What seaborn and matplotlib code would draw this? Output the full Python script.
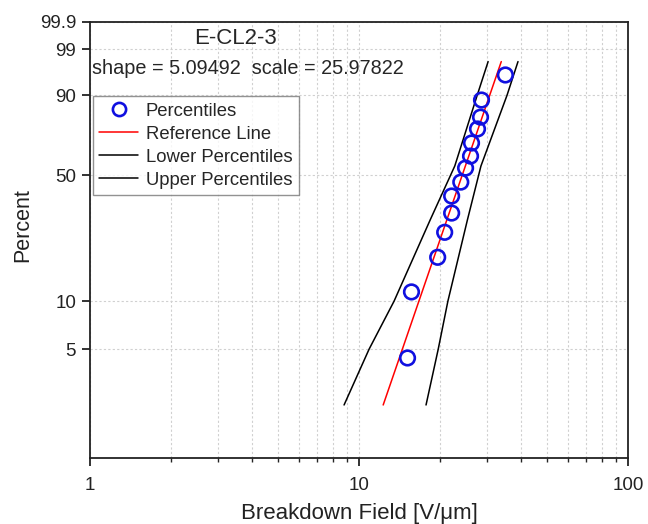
import numpy as np
import pandas as pd
import seaborn as sns
import matplotlib
matplotlib.use("Agg")
import matplotlib.pyplot as plt
from matplotlib.lines import Line2D

# data
field = [15.15, 15.67, 19.61, 20.82, 22.1, 22.1, 23.9, 24.9, 25.98, 26.2, 27.58, 28.3, 28.54, 35.0]
pct = [4.4, 11.4, 18.4, 25.6, 32.6, 39.9, 46.6, 53.9, 60.4, 67.6, 75.1, 81.0, 88.3, 95.6]

ref_x = [12.3, 33.8]
ref_pct = [2.2, 97.8]

band_pct = [2.2, 5, 10, 30, 55, 90, 97.8]
lower_x = [8.8, 10.9, 13.5, 18.4, 22.7, 27.5, 30.2]
upper_x = [17.75, 19.7, 21.4, 25.3, 28.4, 35.5, 39.0]

ytick_vals = [5, 10, 50, 90, 99, 99.9]
ytick_labels = ["5", "10", "50", "90", "99", "99.9"]

title = "E-CL2-3"
params = "shape = 5.09492  scale = 25.97822"


def wfwd(p):
    p = np.clip(np.asarray(p, dtype=float), 1e-6, 100 - 1e-6)
    return np.log(-np.log(1 - p / 100.0))


def winv(w):
    return 100.0 * (1 - np.exp(-np.exp(np.asarray(w, dtype=float))))


sns.set_theme(style="ticks")
plt.rcParams['font.family'] = ['Liberation Sans', 'DejaVu Sans']

fig = plt.figure(figsize=(6.48, 5.24), dpi=100)
ax = fig.add_axes([90 / 648, 1 - 458 / 524, 538 / 648, 436 / 524])
ax.set_xscale('log')
ax.set_yscale('function', functions=(wfwd, winv))

pts = pd.DataFrame({'x': field, 'p': pct})
ref = pd.DataFrame({'x': ref_x, 'p': ref_pct})
band = pd.DataFrame({'lo': lower_x, 'hi': upper_x, 'p': band_pct})

sns.lineplot(data=band, x='lo', y='p', ax=ax, color='black', lw=1.1, sort=False, estimator=None)
sns.lineplot(data=band, x='hi', y='p', ax=ax, color='black', lw=1.1, sort=False, estimator=None)
sns.lineplot(data=ref, x='x', y='p', ax=ax, color='red', lw=1.1, sort=False, estimator=None)
sns.scatterplot(data=pts, x='x', y='p', ax=ax, marker='o', s=110, facecolor='none',
                edgecolor='#1010e0', linewidth=1.9, zorder=5)

ax.set_xlim(1, 100)
ax.set_ylim(1, 99.9)
ax.set_yticks(ytick_vals)
ax.set_yticklabels(ytick_labels)
ax.yaxis.set_minor_locator(matplotlib.ticker.NullLocator())
ax.xaxis.set_major_formatter(matplotlib.ticker.FuncFormatter(lambda v, _: "%g" % v))
ax.xaxis.set_minor_formatter(matplotlib.ticker.NullFormatter())

ax.grid(True, which='both', axis='x', color='#d0d0d0', linestyle=(0, (2, 2)), lw=0.8)
ax.grid(True, which='major', axis='y', color='#d0d0d0', linestyle=(0, (2, 2)), lw=0.8)
ax.set_axisbelow(True)

for s in ax.spines.values():
    s.set_linewidth(1.3)
    s.set_color('#222222')
ax.tick_params(axis='both', which='major', direction='out', length=6, width=1.3,
               colors='#222222', labelcolor='#222222', pad=4)
ax.tick_params(axis='y', which='major', labelsize=13.5)
ax.tick_params(axis='x', which='major', labelsize=13.5, pad=8)
ax.tick_params(axis='x', which='minor', direction='out', length=3, width=1.0)

ax.set_xlabel("Breakdown Field [V/μm]", fontsize=16, labelpad=6, color='#222222')
ax.set_ylabel("Percent", fontsize=15.5, color='#222222')
ax.yaxis.set_label_coords(-0.105, 0.534)

ax.text(0.27, 0.962, title, transform=ax.transAxes, ha='center', va='center', fontsize=16)
ax.text(0.004, 0.894, params, transform=ax.transAxes, ha='left', va='center', fontsize=14.3)

handles = [
    Line2D([], [], marker='o', ls='none', markersize=9.5, markerfacecolor='none',
           markeredgecolor='#1010e0', markeredgewidth=1.9),
    Line2D([], [], color='red', lw=1.1),
    Line2D([], [], color='black', lw=1.1),
    Line2D([], [], color='black', lw=1.1),
]
labels = ["Percentiles", "Reference Line", "Lower Percentiles", "Upper Percentiles"]
leg = ax.legend(handles, labels, loc='upper left', bbox_to_anchor=(0.0056, 0.830),
                fontsize=13.3, frameon=True, fancybox=False, edgecolor='#777777',
                handlelength=2.1, handletextpad=0.4, borderpad=0.35, labelspacing=0.33,
                borderaxespad=0)
leg.get_frame().set_linewidth(1.0)

fig.savefig("out.png", dpi=100)
